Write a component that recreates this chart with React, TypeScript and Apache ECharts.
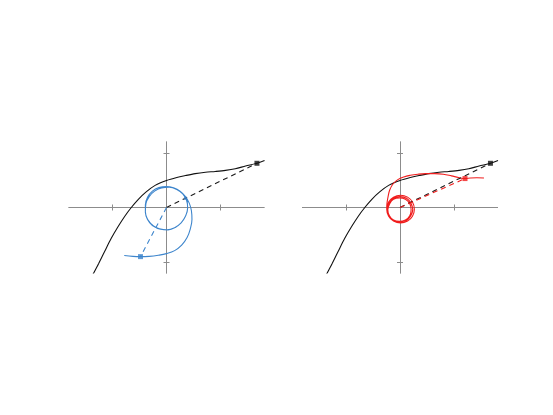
import React, { useEffect, useRef } from 'react';
import * as echarts from 'echarts';

// Shared black curve (same in both panels)
const blackCurve: [number, number][] = [
  [-1.36, -1.23], [-1.25, -1.02], [-1.14, -0.8], [-1.02, -0.565], [-0.89, -0.345],
  [-0.77, -0.16], [-0.65, 0.0], [-0.52, 0.15], [-0.37, 0.29], [-0.21, 0.405],
  [0, 0.495], [0.19, 0.55], [0.35, 0.585], [0.53, 0.62], [0.72, 0.645],
  [0.9, 0.66], [1.09, 0.68], [1.27, 0.71], [1.46, 0.76], [1.67, 0.81], [1.81, 0.86],
];

// Blue trajectory (left panel)
const blueCurve: [number, number][] = [
  [-0.78, -0.88], [-0.62, -0.895], [-0.49, -0.9], [-0.32, -0.895], [-0.15, -0.875],
  [0.0, -0.845], [0.15, -0.79], [0.28, -0.69], [0.38, -0.55], [0.44, -0.39],
  [0.47, -0.22], [0.46, -0.06], [0.42, 0.08], [0.35, 0.2], [0.25, 0.3],
  [0.13, 0.36], [0.0, 0.385], [-0.14, 0.365], [-0.26, 0.3], [-0.35, 0.19],
  [-0.39, 0.05], [-0.39, -0.09], [-0.34, -0.23], [-0.24, -0.34], [-0.11, -0.4],
  [0.03, -0.41], [0.17, -0.36], [0.28, -0.27], [0.36, -0.14], [0.39, 0.0],
  [0.37, 0.13], [0.3, 0.25], [0.19, 0.33], [0.05, 0.37], [-0.09, 0.36],
  [-0.22, 0.3], [-0.32, 0.2], [-0.38, 0.07], [-0.39, -0.08], [-0.35, -0.22],
  [-0.26, -0.33], [-0.13, -0.39], [0.01, -0.41], [0.15, -0.37], [0.27, -0.28],
  [0.35, -0.16], [0.39, -0.02], [0.38, 0.12], [0.34, 0.18],
];

// Red trajectory (right panel)
const redCurve: [number, number][] = [
  [1.55, 0.54], [1.42, 0.545], [1.3, 0.54], [1.2, 0.53], [1.08, 0.55],
  [0.95, 0.58], [0.8, 0.61], [0.64, 0.62], [0.48, 0.62], [0.33, 0.61],
  [0.19, 0.59], [0.07, 0.56], [-0.04, 0.51], [-0.13, 0.43], [-0.19, 0.32],
  [-0.22, 0.2], [-0.24, 0.08],
  [-0.245, -0.03], [-0.21, -0.16], [-0.12, -0.25], [0.01, -0.285], [0.14, -0.25],
  [0.23, -0.16], [0.265, -0.03], [0.23, 0.1], [0.14, 0.19], [0.01, 0.225],
  [-0.12, 0.19], [-0.21, 0.1],
  [-0.235, -0.035], [-0.2, -0.15], [-0.12, -0.24], [0.0, -0.27], [0.12, -0.24],
  [0.2, -0.15], [0.235, -0.035], [0.2, 0.08], [0.12, 0.17], [0.0, 0.2],
  [-0.12, 0.17], [-0.2, 0.08],
  [-0.225, -0.04], [-0.195, -0.15], [-0.12, -0.23], [-0.01, -0.255], [0.1, -0.23],
  [0.18, -0.15], [0.205, -0.04], [0.18, 0.07], [0.1, 0.15], [-0.01, 0.175],
  [-0.12, 0.15], [-0.19, 0.07], [-0.225, -0.04],
];

const origin: [number, number] = [0, 0];
const blackPoint: [number, number] = [1.67, 0.81];
const bluePoint: [number, number] = [-0.48, -0.9];
const blueMark: [number, number] = [0.35, 0.17];
const redPoint: [number, number] = [1.2, 0.53];

const tickValues = [-1, 1];
const xRange = [-1.8, 1.8];
const yRange = [-1.2, 1.2];

const AXIS_COLOR = '#8c8c8c';
const BLUE = '#3d85cc';
const RED = '#f01c1c';

function makeXAxis(g: number, position: 'bottom' | 'top') {
  return {
    type: 'value', gridIndex: g, position, min: xRange[0], max: xRange[1],
    axisLine: { show: true, onZero: true, onZeroAxisIndex: 2 * g, lineStyle: { color: AXIS_COLOR, width: 1 } },
    axisTick: { show: true, customValues: tickValues, length: 3, lineStyle: { color: AXIS_COLOR, width: 1 } },
    axisLabel: { show: false }, splitLine: { show: false },
  };
}
function makeYAxis(g: number, position: 'left' | 'right') {
  return {
    type: 'value', gridIndex: g, position, min: yRange[0], max: yRange[1],
    axisLine: { show: true, onZero: true, onZeroAxisIndex: 2 * g, lineStyle: { color: AXIS_COLOR, width: 1 } },
    axisTick: { show: true, customValues: tickValues, length: 3, lineStyle: { color: AXIS_COLOR, width: 1 } },
    axisLabel: { show: false }, splitLine: { show: false },
  };
}

function line(g: number, data: [number, number][], color: string, width: number, dashed = false, z = 2, smooth: number | boolean = 0.4) {
  return {
    type: 'line', xAxisIndex: 2 * g, yAxisIndex: 2 * g, data, showSymbol: false, symbol: 'none',
    smooth: dashed ? false : smooth, z, silent: true,
    lineStyle: { color, width, type: dashed ? [5, 4] : 'solid' },
  };
}
function marker(g: number, p: [number, number], color: string, size: number, z = 5) {
  return {
    type: 'scatter', xAxisIndex: 2 * g, yAxisIndex: 2 * g, data: [p], symbol: 'rect', symbolSize: size, z,
    itemStyle: { color }, silent: true,
  };
}

export default function App() {
  const ref = useRef<HTMLDivElement>(null);
  useEffect(() => {
    if (!ref.current) return;
    const chart = echarts.init(ref.current, null, { renderer: 'svg' });
    chart.setOption({
      animation: false,
      backgroundColor: '#ffffff',
      grid: [
        { left: 69, top: 142, width: 195, height: 131, containLabel: false },
        { left: 302.5, top: 142, width: 195, height: 131, containLabel: false },
      ],
      xAxis: [makeXAxis(0, 'bottom'), makeXAxis(0, 'top'), makeXAxis(1, 'bottom'), makeXAxis(1, 'top')],
      yAxis: [makeYAxis(0, 'left'), makeYAxis(0, 'right'), makeYAxis(1, 'left'), makeYAxis(1, 'right')],
      series: [
        // left panel
        line(0, blackCurve, '#111111', 1.1, false, 2, 0.3),
        line(0, blueCurve, BLUE, 1.1, false, 3),
        line(0, [origin, blackPoint], '#1a1a1a', 1.1, true, 4),
        line(0, [origin, bluePoint], BLUE, 1.1, true, 4),
        marker(0, blackPoint, '#111111', 5),
        marker(0, bluePoint, BLUE, 5),
        marker(0, blueMark, BLUE, 3),
        // right panel
        line(1, blackCurve, '#111111', 1.1, false, 2, 0.3),
        line(1, redCurve, RED, 1.1, false, 3),
        line(1, [origin, blackPoint], '#1a1a1a', 1.1, true, 4),
        line(1, [origin, redPoint], RED, 1.1, true, 4),
        marker(1, blackPoint, '#111111', 5),
        marker(1, redPoint, RED, 5),
      ],
    });
    return () => chart.dispose();
  }, []);
  return (
    <div
      ref={ref}
      style={{ position: 'fixed', left: 0, top: 0, width: 553, height: 415, background: '#fff' }}
    />
  );
}
